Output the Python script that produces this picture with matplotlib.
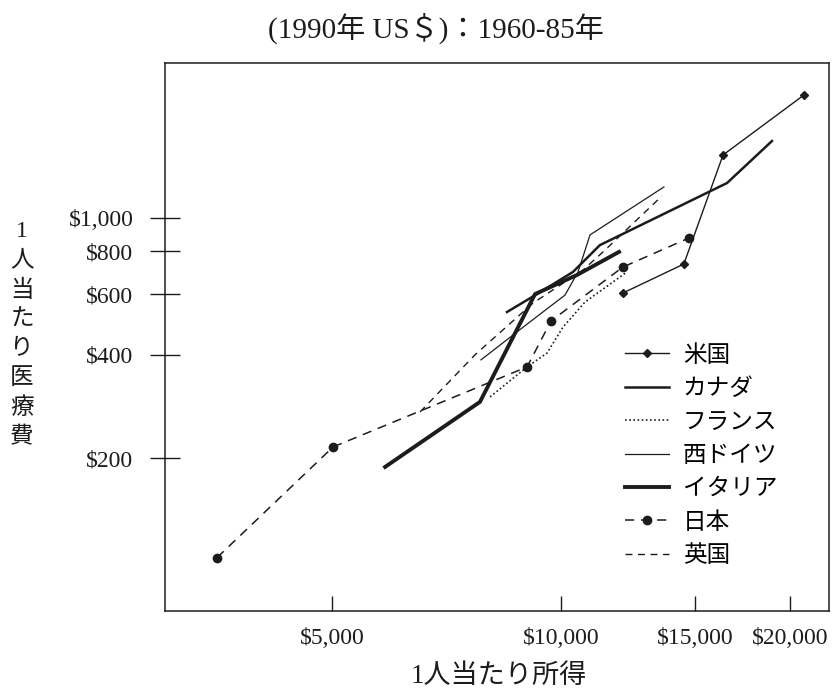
import matplotlib
matplotlib.use("Agg")
import matplotlib.pyplot as plt
from matplotlib.ticker import NullLocator

plt.rcParams["font.family"] = ["Liberation Serif", "Noto Sans CJK JP"]

INK = "#1c1c1c"

# per-capita income vs per-capita health spending (1990 US$), 1960-85
us_income = [12060, 14510, 16340, 20880]
us_spend = [605, 735, 1525, 2278]

canada_income = [8490, 9298, 10370, 11250, 16540, 18950]
canada_spend = [533, 601, 697, 834, 1264, 1674]

france_income = [8066, 9022, 9585, 10061, 10755, 12213]
france_spend = [302, 369, 405, 482, 570, 697]

wgermany_income = [7847, 9103, 10122, 10529, 10919, 13660]
wgermany_spend = [387, 499, 597, 697, 893, 1231]

italy_income = [5868, 7822, 9243, 10497, 11922]
italy_spend = [189, 292, 601, 683, 797]

japan_income = [3527, 5012, 9022, 9702, 12060, 14740]
japan_spend = [103, 216, 369, 502, 720, 875]

uk_income = [6524, 7704, 9188, 10690, 11360, 13580]
uk_spend = [273, 400, 566, 706, 797, 1159]

x_ticks = [5000, 10000, 15000, 20000]
x_labels = ["$5,000", "$10,000", "$15,000", "$20,000"]
y_ticks = [200, 400, 600, 800, 1000]
y_labels = ["$200", "$400", "$600", "$800", "$1,000"]

series = [
    ("米国", us_income, us_spend, dict(lw=1.0, ls="-", marker="D", ms=4.5)),
    ("カナダ", canada_income, canada_spend, dict(lw=1.8, ls="-")),
    ("フランス", france_income, france_spend, dict(lw=1.2, ls=(0, (1, 1.5)))),
    ("西ドイツ", wgermany_income, wgermany_spend, dict(lw=0.9, ls="-")),
    ("イタリア", italy_income, italy_spend, dict(lw=2.8, ls="-")),
    ("日本", japan_income, japan_spend, dict(lw=1.1, ls=(0, (6, 4.5)), marker="o", ms=6)),
    ("英国", uk_income, uk_spend, dict(lw=1.0, ls=(0, (5, 4)))),
]

fig = plt.figure(figsize=(8.32, 6.91), dpi=100)
ax = fig.add_axes([165 / 832, 1 - 611 / 691, 664 / 832, 548 / 691])

for name, xs, ys, style in series:
    ax.plot(xs, ys, color=INK, label=name, markerfacecolor=INK,
            markeredgecolor=INK, **style)

ax.set_xscale("log")
ax.set_yscale("log")
ax.set_xlim(3012, 22525)
ax.set_ylim(72.05, 2822)

ax.set_xticks(x_ticks)
ax.set_xticklabels(x_labels)
ax.set_yticks(y_ticks)
ax.set_yticklabels(y_labels)
ax.xaxis.set_minor_locator(NullLocator())
ax.yaxis.set_minor_locator(NullLocator())

ax.tick_params(axis="x", direction="in", length=10.5, width=1.0, pad=12,
               labelsize=17, colors=INK)
ax.tick_params(axis="y", direction="inout", length=21.5, width=1.0, pad=12,
               labelsize=17, colors=INK)
for sp in ax.spines.values():
    sp.set_linewidth(1.1)
    sp.set_color(INK)

fig.text(436 / 832, 1 - 28 / 691, "(1990年 US＄)：1960-85年",
         ha="center", va="center", fontsize=21, color=INK)
fig.text(499 / 832, 1 - 676 / 691, "1人当たり所得",
         ha="center", va="center", fontsize=19.5, color=INK)
fig.text(22 / 832, 1 - 335 / 691, "\n".join("1人当たり医療費"),
         ha="center", va="center", fontsize=17, linespacing=1.5, color=INK)

ax.legend(loc="upper left", bbox_to_anchor=(625 / 832, 1 - 345 / 691),
          bbox_transform=fig.transFigure, frameon=False, fontsize=17,
          handlelength=1.85, handletextpad=0.6, labelspacing=0.5,
          borderpad=0, borderaxespad=0)

fig.savefig("out.png", dpi=100, facecolor="white")
